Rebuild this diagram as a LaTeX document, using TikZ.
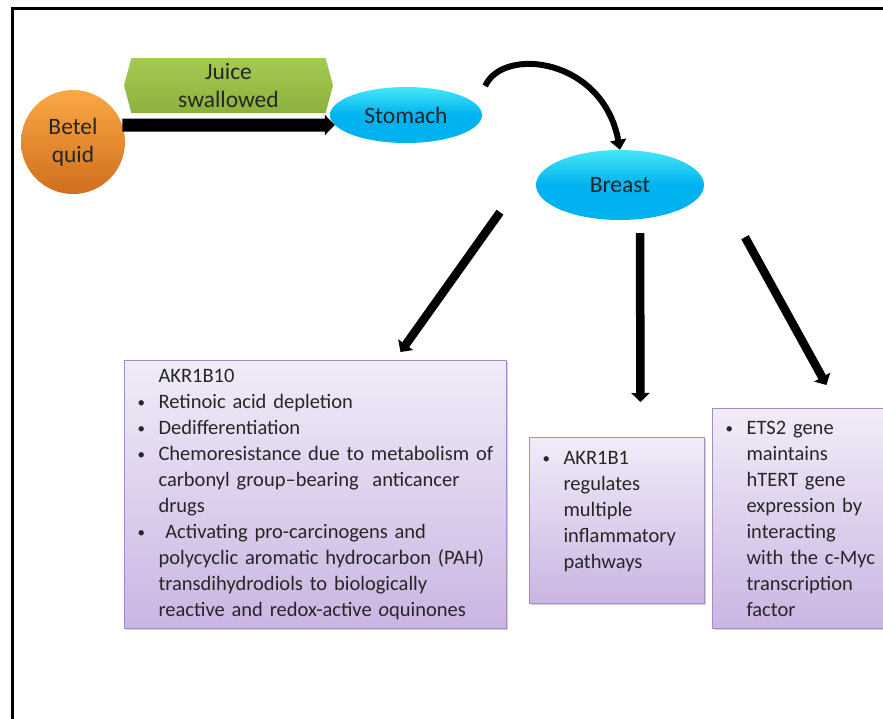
\documentclass[tikz,border=0pt]{standalone}
\usepackage{fontspec}
\setmainfont{Carlito}
\usetikzlibrary{arrows.meta,shapes.geometric,shapes.symbols,shadows}

\definecolor{quidtop}{HTML}{FAA846}
\definecolor{quidbot}{HTML}{D06E1C}
\definecolor{juicetop}{HTML}{A4CA52}
\definecolor{juicebot}{HTML}{8CB23E}
\definecolor{organtop}{HTML}{45E8F8}
\definecolor{organmid}{HTML}{00B2F0}
\definecolor{boxtop}{HTML}{F1ECF8}
\definecolor{boxbot}{HTML}{CAB5E2}
\definecolor{boxline}{HTML}{A48AC6}
\definecolor{inktext}{HTML}{262626}

% bullet and hanging indent for the lists
\newcommand{\bitem}{\makebox[29pt][l]{\hspace{8pt}\raisebox{1pt}{\fontsize{15}{15}\selectfont\textbullet}}}
\newcommand{\bcont}{\hspace*{29pt}}
\newcommand{\padlast}[1]{\rule[-#1]{0pt}{#1}}

\tikzset{
  label font/.style={font=\fontsize{23.5}{28.5}\selectfont, text=inktext},
  organ/.style={ellipse, inner sep=0pt, label font,
    top color=organtop, bottom color=organmid, middle color=organmid},
  infobox/.style={rectangle, draw=boxline, line width=1pt, anchor=north west,
    top color=boxtop, bottom color=boxbot, align=left, text=inktext,
    inner xsep=5pt, inner ysep=0pt, font=\fontsize{20.5}{26}\selectfont,
    drop shadow={shadow xshift=1.5pt, shadow yshift=-1.5pt, opacity=.35}},
  fatarrow/.style={line width=13pt, -{Triangle[width=20pt,length=10pt]}},
  bendarrow/.style={line width=6pt, -{Triangle[width=16pt,length=10pt]}},
  branch/.style={line width=8.5pt, -{Triangle[width=18pt,length=9pt]}}
}

\begin{document}
\begin{tikzpicture}[x=1pt,y=-1pt]
  \useasboundingbox (0,0) rectangle (883,718);
  \draw[line width=3pt] (12,720) -- (12,8) -- (890,8);

  % top row
  \node[circle, minimum size=104pt, inner sep=0pt, align=center, label font,
        top color=quidtop, bottom color=quidbot] (quid) at (73,142) {Betel\\quid};
  \node[signal, signal to=west and east, signal pointer angle=150,
        minimum width=209pt, minimum height=55pt, inner sep=0pt, align=center, label font,
        top color=juicetop, bottom color=juicebot] (juice) at (228.5,85.5) {Juice\\swallowed};
  \node[organ, minimum width=152pt, minimum height=56pt] (stomach) at (406,115) {Stomach};
  \node[organ, minimum width=168pt, minimum height=70pt] (breast) at (620,185) {Breast};

  \draw[fatarrow] (quid.19) -- (stomach.188);
  \coordinate (arcstart) at ([xshift=3pt,yshift=29pt]stomach.east);
  \draw[bendarrow] (arcstart) .. controls (503,46) and (603,58) .. (breast.north);

  % effects in breast tissue
  \node[infobox, text width=372pt, minimum height=268pt] (akr10) at (124,360) {%
    \bcont AKR1B10\\
    \bitem Retinoic acid depletion\\
    \bitem Dedifferentiation\\
    \bitem Chemoresistance due to metabolism of\\
    \bcont carbonyl group--bearing\ \ anticancer\\
    \bcont drugs\\
    \bitem\ Activating pro-carcinogens\ and\\
    \bcont polycyclic aromatic hydrocarbon\ (PAH)\\
    \bcont transdihydrodiols to biologically\\
    \bcont reactive and redox-active \textit{o}quinones};
  \node[infobox, text width=165pt, minimum height=166pt] (akr1) at (529,437) {%
    \bitem AKR1B1\\
    \bcont regulates\\
    \bcont multiple\\
    \bcont inflammatory\\
    \bcont pathways\padlast{21pt}};
  \node[infobox, text width=180pt, minimum height=220pt] (ets2) at (712,408) {%
    \bitem ETS2 gene\\
    \bcont maintains\\
    \bcont hTERT gene\\
    \bcont expression by\\
    \bcont interacting\\
    \bcont with the c-Myc\\
    \bcont transcription\\
    \bcont factor};

  \coordinate (split1) at ([xshift=-120pt,yshift=8pt]breast.south);
  \coordinate (split2) at ([xshift=20pt,yshift=-13pt]breast.south);
  \coordinate (split3) at ([xshift=125pt,yshift=-17pt]breast.south);
  \draw[branch] (split1) -- ([xshift=85pt,yshift=8pt]akr10.north);
  \draw[branch] (split2) -- ([xshift=23.5pt,yshift=35pt]akr1.north);
  \draw[branch] (split3) -- ([xshift=19pt,yshift=23pt]ets2.north);
\end{tikzpicture}
\end{document}
